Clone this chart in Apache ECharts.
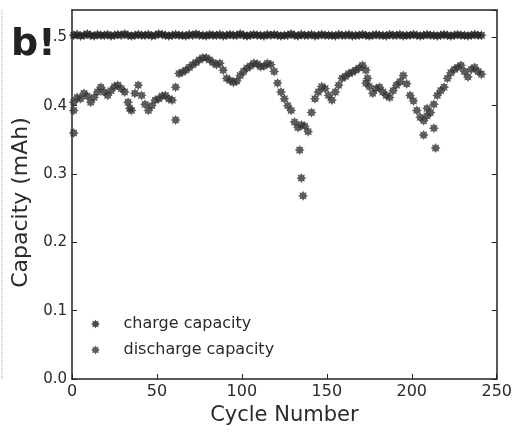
<!DOCTYPE html>
<html>
<head>
<meta charset="utf-8">
<script src="https://cdn.jsdelivr.net/npm/echarts@6/dist/echarts.min.js"></script>
<style>
html,body{margin:0;padding:0;background:#fff;}
#chart{width:515px;height:433px;}
</style>
</head>
<body>
<div id="chart"></div>
<script>
// Cycle numbers for main band samples (every second cycle, 1..241)
var bandStart = 1, bandStep = 2;

var chargeCapacity = [
0.503,0.504,0.502,0.503,0.505,0.503,0.502,0.504,0.503,0.503,
0.504,0.502,0.503,0.504,0.503,0.505,0.503,0.502,0.503,0.504,
0.503,0.503,0.504,0.502,0.503,0.505,0.504,0.503,0.502,0.503,
0.504,0.503,0.503,0.502,0.504,0.503,0.505,0.503,0.503,0.502,
0.504,0.503,0.503,0.504,0.502,0.503,0.504,0.503,0.503,0.505,
0.503,0.502,0.503,0.504,0.503,0.503,0.502,0.504,0.503,0.504,
0.503,0.502,0.503,0.503,0.505,0.503,0.502,0.504,0.503,0.503,
0.504,0.502,0.503,0.504,0.503,0.503,0.503,0.502,0.504,0.503,
0.503,0.504,0.502,0.503,0.503,0.504,0.503,0.502,0.503,0.504,
0.503,0.503,0.502,0.504,0.503,0.503,0.504,0.502,0.503,0.503,
0.504,0.503,0.502,0.503,0.504,0.503,0.503,0.502,0.503,0.504,
0.503,0.502,0.503,0.504,0.503,0.503,0.502,0.503,0.504,0.503,
0.503
];

var dischargeCapacity = [
0.405,0.412,0.410,0.418,0.414,0.405,0.412,0.420,0.427,0.420,
0.415,0.422,0.428,0.430,0.425,0.420,0.405,0.393,0.418,0.430,
0.415,0.402,0.393,0.400,0.408,0.410,0.414,0.415,0.410,0.408,
0.427,0.447,0.449,0.452,0.456,0.460,0.463,0.467,0.470,0.470,
0.467,0.463,0.460,0.462,0.452,0.440,0.437,0.434,0.436,0.444,
0.450,0.455,0.458,0.462,0.461,0.457,0.458,0.462,0.460,0.450,
0.433,0.420,0.410,0.400,0.393,0.376,0.368,0.372,0.370,0.362,
0.390,0.410,0.420,0.428,0.425,0.415,0.408,0.420,0.430,0.440,
0.443,0.447,0.449,0.452,0.455,0.459,0.452,0.428,0.418,0.425,
0.427,0.420,0.415,0.412,0.422,0.430,0.435,0.444,0.432,0.415,
0.407,0.393,0.383,0.378,0.396,0.390,0.402,0.415,0.422,0.427,
0.440,0.448,0.453,0.456,0.459,0.450,0.442,0.453,0.456,0.450,
0.446
];

// Scattered discharge points off the main band: [cycle, capacity]
var dischargeExtra = [
[1,0.393],[1,0.360],[34,0.396],[61,0.379],[134,0.335],[135,0.294],[136,0.268],
[173,0.433],[174,0.440],[207,0.357],[213,0.367],[214,0.338],[209,0.385]
];

var xTicks = [0,50,100,150,200,250];
var yTicks = [0.0,0.1,0.2,0.3,0.4,0.5];

function toPairs(vals){
  var out = [];
  for (var i=0;i<vals.length;i++) out.push([bandStart + bandStep*i, vals[i]]);
  return out;
}

var star = 'path://M5,0 L6.2,2.1 L8.5,1.5 L7.9,3.8 L10,5 L7.9,6.2 L8.5,8.5 L6.2,7.9 L5,10 L3.8,7.9 L1.5,8.5 L2.1,6.2 L0,5 L2.1,3.8 L1.5,1.5 L3.8,2.1 Z';
var font = 'DejaVu Sans';
var txt = '#2a2a2a';

var chart = echarts.init(document.getElementById('chart'), null, {renderer:'canvas'});
chart.setOption({
  backgroundColor:'#fff',
  animation:false,
  grid:{left:72,right:18,top:10,bottom:54},
  legend:{
    orient:'vertical', left:86, top:310, itemWidth:30, itemHeight:9, itemGap:8,
    textStyle:{fontFamily:font,fontSize:16,color:txt,lineHeight:18,padding:[0,0,0,8]},
    data:['charge capacity','discharge capacity']
  },
  xAxis:[{
    type:'value', min:0, max:250, interval:50,
    axisLine:{onZero:false,lineStyle:{color:'#222',width:1.5}},
    axisTick:{inside:true,length:5,lineStyle:{color:'#222'}},
    axisLabel:{fontFamily:font,fontSize:16,color:txt,margin:5},
    splitLine:{show:false},
    name:'Cycle Number', nameLocation:'middle', nameGap:24,
    nameTextStyle:{fontFamily:font,fontSize:21,color:txt}
  },{
    type:'value', min:0, max:250, position:'top',
    axisLine:{onZero:false,lineStyle:{color:'#222',width:1.5}},
    axisTick:{show:false}, axisLabel:{show:false}, splitLine:{show:false}
  }],
  yAxis:[{
    type:'value', min:0, max:0.54, interval:0.1,
    axisLine:{onZero:false,lineStyle:{color:'#222',width:1.5}},
    axisTick:{inside:true,length:5,lineStyle:{color:'#222'}},
    axisLabel:{fontFamily:font,fontSize:15,color:txt,margin:5,showMaxLabel:false,
      formatter:function(v){
        for (var i=0;i<yTicks.length;i++){ if (Math.abs(v-yTicks[i])<1e-6) return i===5 ? '.5' : yTicks[i].toFixed(1); }
        return '';
      }},
    splitLine:{show:false},
    name:'Capacity (mAh)', nameLocation:'middle', nameGap:34,
    nameTextStyle:{fontFamily:font,fontSize:22,color:txt,padding:[0,16,0,0]}
  },{
    type:'value', min:0, max:0.54, interval:0.1, position:'right',
    axisLine:{onZero:false,lineStyle:{color:'#222',width:1.5}},
    axisTick:{inside:true,length:5,lineStyle:{color:'#222'}},
    axisLabel:{show:false}, splitLine:{show:false}
  }],
  series:[{
    name:'charge capacity', type:'scatter', symbol:star, symbolSize:10,
    itemStyle:{color:'#1e1e1e'}, data:toPairs(chargeCapacity)
  },{
    name:'discharge capacity', type:'scatter', symbol:star, symbolSize:10,
    itemStyle:{color:'#333'}, data:toPairs(dischargeCapacity).concat(dischargeExtra)
  }],
  graphic:[
    {type:'text', left:11, top:26, style:{text:'b!', font:'bold 38px "DejaVu Sans"', fill:'#222'}},
    {type:'line', shape:{x1:2,y1:10,x2:2,y2:380}, style:{stroke:'#aaa',lineWidth:1,lineDash:[1,1]}}
  ]
});
</script>
</body>
</html>
